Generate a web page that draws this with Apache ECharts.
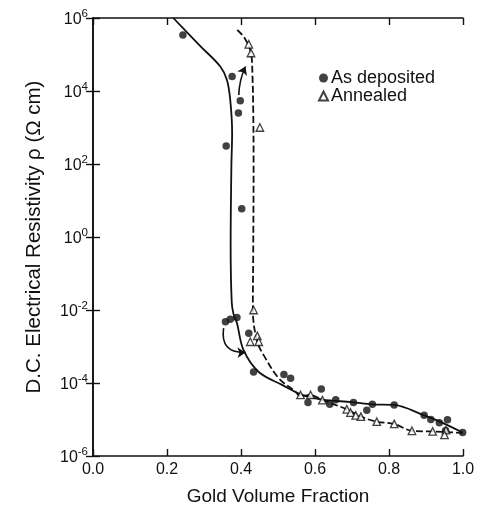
<!DOCTYPE html>
<html>
<head>
<meta charset="utf-8">
<script src="https://cdn.jsdelivr.net/npm/echarts@6/dist/echarts.min.js"></script>
<style>html,body{margin:0;padding:0;background:#fff}#c{width:481px;height:513px}</style>
</head>
<body>
<div id="c"></div>
<script>
// As deposited (filled circles)
const asDepX   = [0.243, 0.376, 0.398, 0.393, 0.360, 0.402, 0.358, 0.371, 0.389, 0.421, 0.434, 0.516, 0.534, 0.617, 0.581, 0.640, 0.656, 0.704, 0.740, 0.755, 0.814, 0.895, 0.913, 0.936, 0.958, 0.999, 0.953];
const asDepRho = [3.4e5, 2.5e4, 5.4e3, 2.5e3, 3.1e2, 5.9, 4.8e-3, 5.6e-3, 6.2e-3, 2.3e-3, 2.0e-4, 1.7e-4, 1.35e-4, 6.8e-5, 2.9e-5, 2.6e-5, 3.5e-5, 2.9e-5, 1.8e-5, 2.6e-5, 2.5e-5, 1.3e-5, 1.0e-5, 8.1e-6, 9.8e-6, 4.4e-6, 5.0e-6];
// Annealed (open triangles)
const annX   = [0.421, 0.427, 0.451, 0.434, 0.425, 0.444, 0.448, 0.561, 0.588, 0.620, 0.686, 0.696, 0.710, 0.724, 0.767, 0.814, 0.862, 0.918, 0.954, 0.950];
const annRho = [1.9e5, 1.1e5, 1.0e3, 1.0e-2, 1.35e-3, 1.95e-3, 1.35e-3, 4.7e-5, 4.7e-5, 3.4e-5, 1.9e-5, 1.55e-5, 1.3e-5, 1.2e-5, 8.7e-6, 7.6e-6, 4.9e-6, 4.7e-6, 5.1e-6, 3.8e-6];
// Solid curve (as deposited)
const solidX   = [0.217, 0.290, 0.344, 0.362, 0.371, 0.376, 0.374, 0.372, 0.375, 0.380, 0.389, 0.407, 0.448, 0.511, 0.566, 0.620, 0.700, 0.755, 0.814, 0.895, 0.936, 0.999];
const solidRho = [1e6, 1.7e5, 4.7e4, 2.0e4, 5.6e3, 7.1e2, 85, 0.56, 1.6e-2, 7.6e-3, 4.4e-3, 7.9e-4, 2.0e-4, 8.9e-5, 4.7e-5, 3.5e-5, 3.0e-5, 2.6e-5, 2.5e-5, 1.3e-5, 8.9e-6, 4.4e-6];
// Dashed curve (annealed)
const dashX   = [0.390, 0.410, 0.427, 0.431, 0.433, 0.434, 0.433, 0.432, 0.444, 0.466, 0.502, 0.547, 0.561, 0.588, 0.620, 0.686, 0.724, 0.767, 0.814, 0.862, 0.918, 1.0];
const dashRho = [4.7e5, 2.8e5, 1.1e5, 2.6e4, 3.2e3, 100, 0.32, 1.0e-2, 1.35e-3, 4.8e-4, 1.35e-4, 5.8e-5, 4.3e-5, 4.7e-5, 3.4e-5, 1.9e-5, 1.2e-5, 8.7e-6, 7.6e-6, 4.9e-6, 4.7e-6, 4.3e-6];
// Annealing arrows: [fromX, fromRho, toX, toRho]
const arrowTop    = [0.394, 7.8e3, 0.412, 4.7e4];
const arrowBottom = [0.353, 3.2e-3, 0.412, 6.9e-4];

const FONT = 'Liberation Sans';
const INK = '#111';
const zip = (xs, ys) => xs.map((x, i) => [x, ys[i]]);

const chart = echarts.init(document.getElementById('c'), null, {renderer: 'canvas'});
const axisLine = {show: true, lineStyle: {color: INK, width: 1.6}};
const axisTick = {show: true, inside: true, length: 7, lineStyle: {color: INK, width: 1.4}};
const yFmt = v => {
  const e = Math.round(Math.log10(v));
  return '{b|10}{s|' + e + '}';
};
const yRich = {
  b: {fontSize: 16, fontFamily: FONT, color: INK, verticalAlign: 'bottom'},
  s: {fontSize: 11.5, fontFamily: FONT, color: INK, verticalAlign: 'bottom', padding: [0, 0, 8, 0]}
};
chart.setOption({
  animation: false,
  backgroundColor: '#fff',
  grid: {left: 93, right: 18, top: 18, bottom: 57},
  legend: {
    orient: 'vertical', left: 313, top: 64, itemWidth: 9, itemHeight: 9, itemGap: 0,
    data: ['As deposited', 'Annealed'],
    textStyle: {fontSize: 18, lineHeight: 18, fontFamily: FONT, color: INK, padding: [0, 0, 0, -2]}
  },
  xAxis: [
    {type: 'value', min: 0, max: 1, interval: 0.2, position: 'bottom',
     axisLine, axisTick, splitLine: {show: false},
     axisLabel: {formatter: v => v.toFixed(1), fontSize: 16, fontFamily: FONT, color: INK, margin: 6},
     name: 'Gold Volume Fraction', nameLocation: 'middle', nameGap: 31,
     nameTextStyle: {fontSize: 19, fontFamily: FONT, color: INK}},
    {type: 'value', min: 0, max: 1, interval: 0.2, position: 'top',
     axisLine, axisTick, splitLine: {show: false}, axisLabel: {show: false}}
  ],
  yAxis: [
    {type: 'log', logBase: 10, min: 1e-6, max: 1e6, interval: 2, position: 'left',
     axisLine, axisTick, splitLine: {show: false}, minorTick: {show: false},
     axisLabel: {formatter: yFmt, rich: yRich, margin: 5},
     name: 'D.C. Electrical Resistivity \u03c1 (\u03a9 cm)', nameLocation: 'middle', nameGap: 48, nameRotate: 90,
     nameTextStyle: {fontSize: 20.5, fontFamily: FONT, color: INK}},
    {type: 'log', logBase: 10, min: 1e-6, max: 1e6, interval: 2, position: 'right',
     axisLine, axisTick, splitLine: {show: false}, axisLabel: {show: false}}
  ],
  series: [
    {name: 'fitSolid', type: 'line', data: zip(solidX, solidRho), smooth: 0.35, symbol: 'none',
     lineStyle: {color: INK, width: 1.8}, silent: true, z: 2},
    {name: 'fitDashed', type: 'line', data: zip(dashX, dashRho), smooth: 0.35, symbol: 'none',
     lineStyle: {color: INK, width: 1.8, type: [7, 3]}, silent: true, z: 2},
    {name: 'As deposited', type: 'scatter', data: zip(asDepX, asDepRho), symbol: 'circle', symbolSize: 7.5,
     itemStyle: {color: INK}, z: 4},
    {name: 'Annealed', type: 'scatter', data: zip(annX, annRho), symbol: 'triangle', symbolSize: 7.5,
     itemStyle: {color: '#fff', borderColor: INK, borderWidth: 1.3}, z: 5},
    {name: 'arrows', type: 'lines', coordinateSystem: 'cartesian2d', symbol: ['none', 'arrow'], symbolSize: 8,
     lineStyle: {color: INK, width: 1.6, opacity: 1}, silent: true, z: 3,
     data: [
       {coords: [[arrowTop[0], arrowTop[1]], [arrowTop[2], arrowTop[3]]], lineStyle: {curveness: 0.1}},
       {coords: [[arrowBottom[0], arrowBottom[1]], [arrowBottom[2], arrowBottom[3]]], lineStyle: {curveness: -0.6}}
     ]}
  ]
});
</script>
</body>
</html>
